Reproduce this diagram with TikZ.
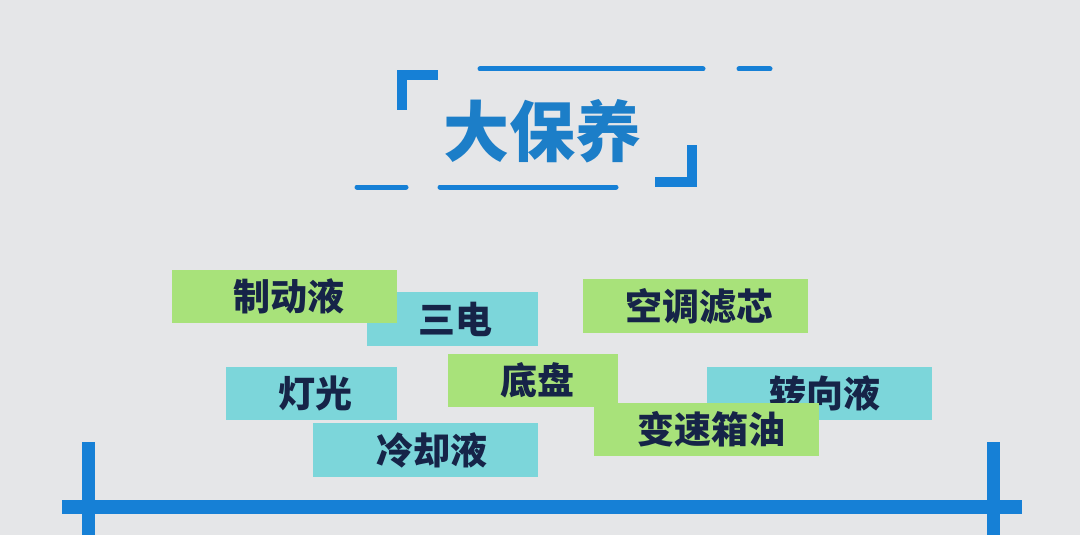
\documentclass[tikz,border=0pt]{standalone}
\usepackage{fontspec}
\newfontfamily\cjk{Noto Sans CJK SC}
\definecolor{bg}{RGB}{229,230,232}
\definecolor{bl}{RGB}{22,128,214}
\definecolor{tb}{RGB}{28,126,200}
\definecolor{gr}{RGB}{168,226,122}
\definecolor{cy}{RGB}{124,214,218}
\definecolor{tx}{RGB}{22,36,72}
\tikzset{
  box/.style={rectangle, inner sep=0pt, font=\cjk\bfseries\fontsize{37}{40}\selectfont, text=tx, anchor=center},
  gbox/.style={box, fill=gr},
  cbox/.style={box, fill=cy},
  thin line/.style={bl, line width=5pt, line cap=round},
  bracket/.style={fill=bl},
  axis/.style={fill=bl}
}
\begin{document}
\begin{tikzpicture}[x=1pt,y=-1pt]
\fill[bg] (0,0) rectangle (1080,535);
\useasboundingbox (0,0) rectangle (1080,535);
% title decoration
\fill[bracket] (397,70) rectangle (407,110);
\fill[bracket] (397,70) rectangle (438,80);
\fill[bracket] (687,145) rectangle (697,187);
\fill[bracket] (655,177) rectangle (697,187);
\coordinate (t1a) at (480,69); \coordinate (t1b) at (703,69);
\coordinate (t2a) at (739,69); \coordinate (t2b) at (770,69);
\coordinate (b1a) at (357,187); \coordinate (b1b) at (406,187);
\coordinate (b2a) at (440,187); \coordinate (b2b) at (616,187);
\draw[thin line] (t1a) -- (t1b);
\draw[thin line] (t2a) -- (t2b);
\draw[thin line] (b1a) -- (b1b);
\draw[thin line] (b2a) -- (b2b);
\node[font=\cjk\bfseries\fontsize{66}{70}\selectfont, text=tb, inner sep=0pt] (title) at (542,131) {大保养};
% boxes
\node[cbox, minimum width=171pt, minimum height=54pt] (sandian) at (452.5,319) {\hspace*{5pt}三电};
\node[gbox, minimum width=225pt, minimum height=53pt] (zhidong) at (284.5,296.5) {\hspace*{8pt}制动液};
\node[gbox, minimum width=225pt, minimum height=54pt] (kongtiao) at (695.5,306) {\hspace*{8pt}空调滤芯};
\node[cbox, minimum width=171pt, minimum height=53pt] (dengguang) at (311.5,393.5) {\hspace*{8pt}灯光};
\node[gbox, minimum width=170pt, minimum height=53pt] (dipan) at (533,380.5) {\hspace*{8pt}底盘};
\node[cbox, minimum width=225pt, minimum height=53pt] (zhuanxiang) at (819.5,393.5) {\hspace*{10pt}转向液};
\node[gbox, minimum width=225pt, minimum height=53pt] (biansu) at (706.5,429.5) {\hspace*{10pt}变速箱油};
\node[cbox, minimum width=225pt, minimum height=54pt] (lengque) at (425.5,450) {\hspace*{12pt}冷却液};
% axis
\fill[axis] (62,500) rectangle (1022,514);
\fill[axis] (82,442) rectangle (95,535);
\fill[axis] (987,442) rectangle (1000,535);
\end{tikzpicture}
\end{document}
